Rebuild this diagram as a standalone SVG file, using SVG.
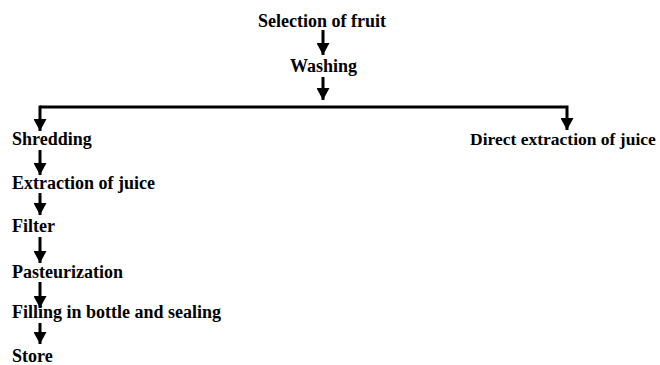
<svg xmlns="http://www.w3.org/2000/svg" width="660" height="365" viewBox="0 0 660 365">
<style>
.c{fill:none;stroke:#000;stroke-width:3}
</style>
<defs>
<marker id="ah" viewBox="0 0 12 13" refX="12" refY="6.5" markerWidth="12" markerHeight="13" markerUnits="userSpaceOnUse" orient="auto">
<path d="M0,0 L12,6.5 L0,13 Z" fill="#000"/>
</marker>
</defs>
<rect width="660" height="365" fill="#fff"/>
<g id="connectors">
<line class="c" x1="323" y1="30" x2="323" y2="55" marker-end="url(#ah)"/>
<line class="c" x1="323" y1="77" x2="323" y2="100" marker-end="url(#ah)"/>
<polyline class="c" points="40,107 567,107 567,130" marker-end="url(#ah)"/>
<line class="c" x1="40" y1="105.5" x2="40" y2="131" marker-end="url(#ah)"/>
<line class="c" x1="40" y1="150" x2="40" y2="175" marker-end="url(#ah)"/>
<line class="c" x1="40" y1="193" x2="40" y2="215" marker-end="url(#ah)"/>
<line class="c" x1="40" y1="237" x2="40" y2="263" marker-end="url(#ah)"/>
<line class="c" x1="40" y1="282" x2="40" y2="308" marker-end="url(#ah)"/>
<line class="c" x1="40" y1="323" x2="40" y2="344" marker-end="url(#ah)"/>
</g>
<g font-family="Liberation Serif, Times New Roman, serif" font-weight="bold" font-size="18" fill="#000">
<g id="selection"><text x="258" y="27">Selection of fruit</text></g>
<g id="washing"><text x="290" y="72">Washing</text></g>
<g id="shredding"><text x="12" y="145">Shredding</text></g>
<g id="direct"><text x="470" y="145" font-size="17.5">Direct extraction of juice</text></g>
<g id="extraction"><text x="12" y="189">Extraction of juice</text></g>
<g id="filter"><text x="12" y="232">Filter</text></g>
<g id="pasteurization"><text x="12" y="278">Pasteurization</text></g>
<g id="filling"><text x="12" y="318">Filling in bottle and sealing</text></g>
<g id="store"><text x="12" y="362">Store</text></g>
</g>
</svg>
